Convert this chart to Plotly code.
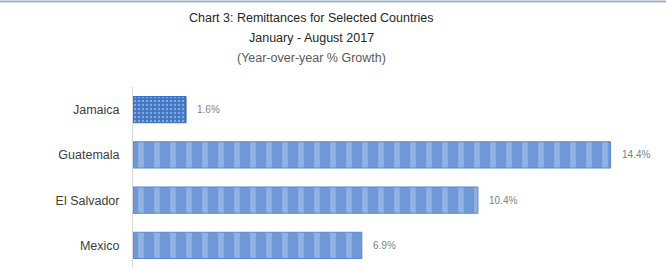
import plotly.graph_objects as go

countries = ["Mexico", "El Salvador", "Guatemala", "Jamaica"]
growth = [6.9, 10.4, 14.4, 1.6]
labels = ["6.9%", "10.4%", "14.4%", "1.6%"]

title_lines = ["Chart 3: Remittances for Selected Countries", "January - August 2017", "(Year-over-year % Growth)"]

FONT = "Liberation Sans, Arial, sans-serif"

fig = go.Figure()
# striped bars
fig.add_trace(go.Bar(
    y=countries[:3], x=growth[:3], orientation="h",
    marker=dict(color="#6e99d6", line=dict(color="#5c88c8", width=1),
                pattern=dict(shape="|", fgcolor="#b3ccee", size=16, solidity=0.35, fillmode="overlay")),
    width=0.58, hoverinfo="skip",
))
# dotted bar
fig.add_trace(go.Bar(
    y=countries[3:], x=growth[3:], orientation="h",
    marker=dict(color="#3f74c4", line=dict(color="#3a6db8", width=1),
                pattern=dict(shape=".", fgcolor="#c9daf3", size=4, solidity=0.3, fillmode="overlay")),
    width=0.58, hoverinfo="skip",
))

for c, v, lab in zip(countries, growth, labels):
    fig.add_annotation(x=v, y=c, xref="x", yref="y", text=lab, showarrow=False,
                       xanchor="left", yanchor="middle", xshift=9,
                       font=dict(size=10, color="#7f7f7f", family=FONT))

H = 270; t = 87; b = 2
ph = H - t - b
W = 666; l = 133; r = 4
pw = W - l - r

def py(p):
    return (H - b - p) / ph

for i, (txt, ypix, col) in enumerate(zip(title_lines, [18, 38, 58], ["#262626", "#262626", "#595959"])):
    fig.add_annotation(text=txt, xref="paper", yref="paper", x=(311 - l) / pw, y=py(ypix),
                       xanchor="center", yanchor="middle", showarrow=False,
                       font=dict(size=12.5, color=col, family=FONT))

fig.add_shape(type="line", xref="paper", yref="paper", x0=-l / pw, x1=(W - l) / pw,
              y0=py(1.5), y1=py(1.5), line=dict(color="#9fb3c8", width=2))

fig.update_layout(
    width=W, height=H, margin=dict(l=l, r=r, t=t, b=b, autoexpand=False),
    paper_bgcolor="white", plot_bgcolor="white",
    showlegend=False, barmode="overlay",
    xaxis=dict(range=[0, 15.95], visible=False, fixedrange=True),
    yaxis=dict(categoryorder="array", categoryarray=countries, showline=True,
               linecolor="#d9d9d9", linewidth=1, ticks="", ticklabelstandoff=10,
               automargin=False, fixedrange=True,
               tickfont=dict(size=12.5, color="#404040", family=FONT), showgrid=False),
)

fig.write_html("out.html", config={"displayModeBar": False},
               post_script="document.body.style.margin='0';")
